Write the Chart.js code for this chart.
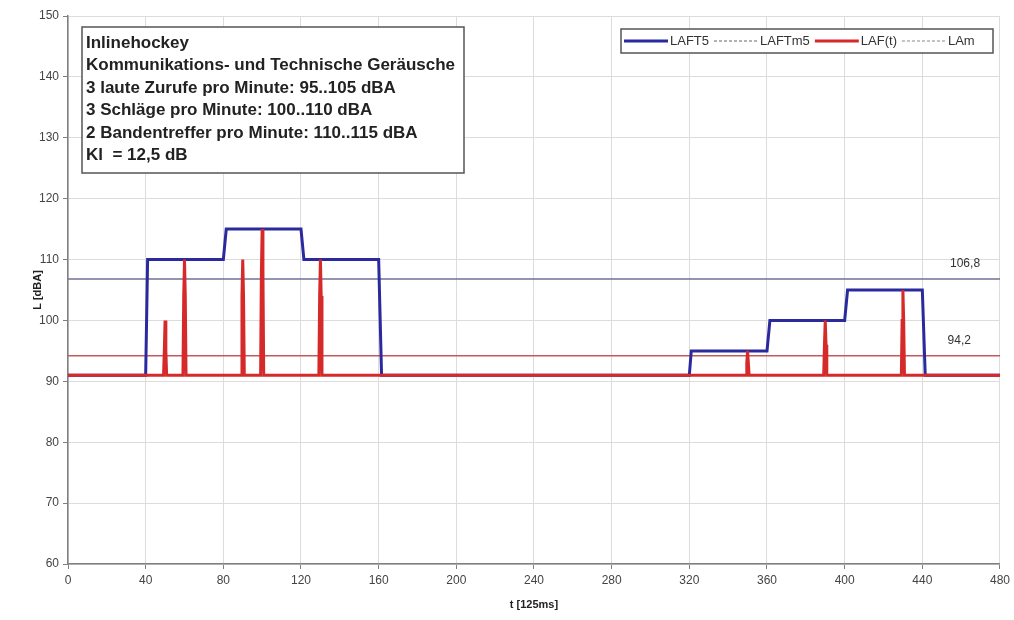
<!DOCTYPE html>
<html>
<head>
<meta charset="utf-8">
<script src="https://cdn.jsdelivr.net/npm/chart.js@4/dist/chart.umd.min.js"></script>
<style>
  html, body { margin: 0; padding: 0; background: #fff; }
</style>
</head>
<body>
<canvas id="grafico" width="1014" height="620"></canvas>
<script>
// LAFT5: Taktmaximalpegel (5 s), Zeit in 125-ms-Schritten
const laft5T = [0, 40, 41, 80, 81.5, 120, 121.5, 160, 161.5, 320, 321, 360, 361.5, 400, 401.5, 440, 441.5, 480];
const laft5L = [91, 91, 110, 110, 115, 115, 110, 110, 91, 91, 95, 95, 100, 100, 105, 105, 91, 91];

// LAF(t): Schalldruckpegel mit Spitzen
const lafT = [0,
  49.2, 49.6, 50, 50.4, 50.8,
  59.2, 59.6, 60, 60.4, 60.8,
  89.2, 89.6, 90, 90.4, 90.8,
  99.2, 99.6, 100, 100.4, 100.8,
  129.2, 129.6, 130, 130.4, 130.8,
  349.2, 349.6, 350, 350.4, 350.8,
  389.2, 389.6, 390, 390.4, 390.8,
  429.2, 429.6, 430, 430.4, 430.8,
  480];
const lafL = [91,
  91, 95, 100, 95, 91,
  91, 104, 110, 104, 91,
  91, 104, 110, 104, 91,
  91, 108, 115, 108, 91,
  91, 104, 110, 104, 91,
  91, 93, 95, 93, 91,
  91, 96, 100, 96, 91,
  91, 100, 105, 100, 91,
  91];

// Mittelungspegel
const laftm5 = 106.8;
const lam = 94.2;

const infoTexto = [
  "Inlinehockey",
  "Kommunikations- und Technische Geräusche",
  "3 laute Zurufe pro Minute: 95..105 dBA",
  "3 Schläge pro Minute: 100..110 dBA",
  "2 Bandentreffer pro Minute: 110..115 dBA",
  "Kl  = 12,5 dB"
];

const FUENTE = '"Liberation Sans", Arial, sans-serif';

function puntos(ts, ls) {
  return ts.map((t, i) => ({ x: t, y: ls[i] }));
}

function horizontal(valor) {
  return [{ x: 0, y: valor }, { x: 480, y: valor }];
}

// caja con el texto descriptivo
const cajaInfo = {
  id: "cajaInfo",
  afterDraw(chart) {
    const ctx = chart.ctx;
    ctx.save();
    ctx.fillStyle = "#fff";
    ctx.fillRect(82, 27, 382, 146);
    ctx.strokeStyle = "#555";
    ctx.lineWidth = 1.5;
    ctx.strokeRect(82, 27, 382, 146);
    ctx.fillStyle = "#222";
    ctx.font = "bold 17px " + FUENTE;
    ctx.textBaseline = "middle";
    infoTexto.forEach((linea, i) => {
      ctx.fillText(linea, 86, 43 + i * 22.5);
    });
    ctx.restore();
  }
};

// leyenda en una caja arriba a la derecha
const cajaLeyenda = {
  id: "cajaLeyenda",
  afterDraw(chart) {
    const ctx = chart.ctx;
    const x0 = 621, y0 = 29, w = 372, h = 24;
    const yc = y0 + h / 2;
    ctx.save();
    ctx.fillStyle = "#fff";
    ctx.fillRect(x0, y0, w, h);
    ctx.strokeStyle = "#555";
    ctx.lineWidth = 1.5;
    ctx.strokeRect(x0, y0, w, h);
    ctx.font = "13px " + FUENTE;
    ctx.textBaseline = "middle";
    let x = x0 + 3;
    chart.data.datasets.forEach(ds => {
      ctx.beginPath();
      ctx.setLineDash(ds.muestraGuion || []);
      ctx.strokeStyle = ds.muestraColor || ds.borderColor;
      ctx.lineWidth = ds.muestraAncho || ds.borderWidth;
      ctx.moveTo(x, yc);
      ctx.lineTo(x + 44, yc);
      ctx.stroke();
      ctx.setLineDash([]);
      x += 46;
      ctx.fillStyle = "#333";
      ctx.fillText(ds.label, x, yc);
      x += ctx.measureText(ds.label).width + 5;
    });
    ctx.restore();
  }
};

// valores de las líneas medias junto al borde derecho
const etiquetasMedias = {
  id: "etiquetasMedias",
  afterDatasetsDraw(chart) {
    const ctx = chart.ctx;
    const xs = chart.scales.x, ys = chart.scales.y;
    ctx.save();
    ctx.font = "12px " + FUENTE;
    ctx.fillStyle = "#333";
    ctx.textAlign = "center";
    ctx.textBaseline = "middle";
    [[laftm5, 462], [lam, 459]].forEach(([v, t]) => {
      ctx.fillText(v.toFixed(1).replace(".", ","), xs.getPixelForValue(t), ys.getPixelForValue(v) - 15);
    });
    ctx.restore();
  }
};

const ctx = document.getElementById("grafico").getContext("2d");
new Chart(ctx, {
  type: "line",
  data: {
    datasets: [
      {
        label: "LAFT5",
        data: puntos(laft5T, laft5L),
        borderColor: "#2a2a9e",
        borderWidth: 3,
        order: 1
      },
      {
        label: "LAFTm5",
        data: horizontal(laftm5),
        borderColor: "#6f6f98",
        borderWidth: 1.5,
        muestraColor: "#666",
        muestraAncho: 1,
        muestraGuion: [3, 2],
        order: 2
      },
      {
        label: "LAF(t)",
        data: puntos(lafT, lafL),
        borderColor: "#d62a2a",
        borderWidth: 3,
        order: 0
      },
      {
        label: "LAm",
        data: horizontal(lam),
        borderColor: "#c25a5a",
        borderWidth: 1.5,
        muestraColor: "#888",
        muestraAncho: 1,
        muestraGuion: [3, 2],
        order: 2
      }
    ]
  },
  options: {
    responsive: false,
    animation: false,
    devicePixelRatio: 1,
    layout: { padding: { top: 16, right: 12, left: 0, bottom: 0 } },
    elements: { point: { radius: 0 }, line: { tension: 0 } },
    plugins: {
      legend: { display: false },
      tooltip: { enabled: false }
    },
    scales: {
      x: {
        type: "linear",
        min: 0,
        max: 480,
        ticks: { stepSize: 40, color: "#444", font: { size: 12, family: FUENTE }, padding: 4, maxRotation: 0 },
        grid: { color: "#dcdcdc", tickColor: "#808080", tickLength: 5 },
        border: { color: "#808080", width: 1.5 },
        title: { display: true, text: "t [125ms]", color: "#222", font: { size: 11, weight: "bold", family: FUENTE }, padding: { top: 0, bottom: 8 } },
        afterFit: s => { s.height = 56; }
      },
      y: {
        min: 60,
        max: 150,
        ticks: { stepSize: 10, color: "#444", font: { size: 12, family: FUENTE }, padding: 4 },
        grid: { color: "#dcdcdc", tickColor: "#808080", tickLength: 5 },
        border: { color: "#808080", width: 1.5 },
        title: { display: true, text: "L [dBA]", color: "#222", font: { size: 11, weight: "bold", family: FUENTE }, padding: { top: 31, bottom: 0 } },
        afterFit: s => { s.width = 68; }
      }
    }
  },
  plugins: [etiquetasMedias, cajaInfo, cajaLeyenda]
});
</script>
</body>
</html>
